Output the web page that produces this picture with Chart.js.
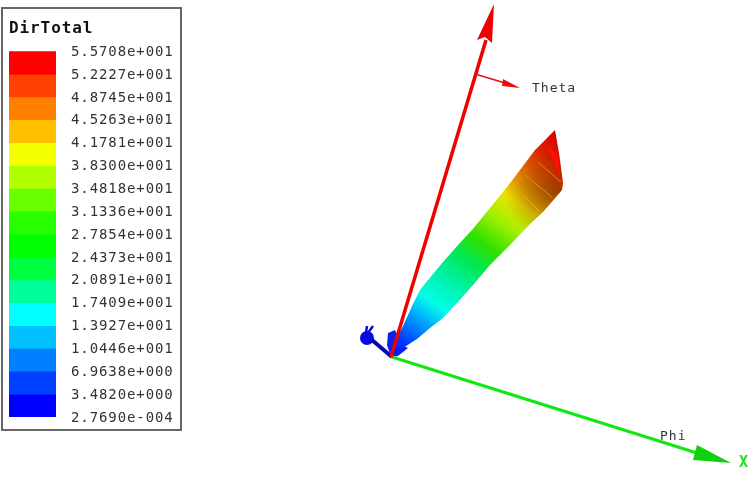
<!DOCTYPE html>
<html>
<head>
<meta charset="utf-8">
<script src="https://cdn.jsdelivr.net/npm/chart.js@4"></script>
<style>
html,body{margin:0;background:#fff}
#scene{position:absolute;left:0;top:0;filter:blur(.6px)}
#legendBox{position:absolute;left:1px;top:7px;width:177px;height:420px;border:2px solid #666;background:#fff}
#legend{filter:blur(.35px)}
</style>
</head>
<body>
<canvas id="scene" width="756" height="504"></canvas>
<div id="legendBox"><canvas id="legend" width="177" height="420"></canvas></div>
<script>
/* ===== LEGEND DATA ===== */
const legendTitle="DirTotal";
const tickLabels=["5.5708e+001","5.2227e+001","4.8745e+001","4.5263e+001","4.1781e+001","3.8300e+001","3.4818e+001","3.1336e+001","2.7854e+001","2.4373e+001","2.0891e+001","1.7409e+001","1.3927e+001","1.0446e+001","6.9638e+000","3.4820e+000","2.7690e-004"];
const bandColors=["#ff0000","#ff4000","#ff8000","#ffc000","#f4ff00","#b0ff00","#68ff00","#28ff00","#00ff00","#00ff40","#00ff99","#00ffff","#00c0ff","#0080ff","#0040ff","#0000ff"];

/* ===== SCENE DATA (in picture units) ===== */
const redAxis=[[391,357],[486,40]];
const redHead=[[494,4],[477,40],[485,37],[492,43]];
const thetaLine=[[475,74],[505,83]];
const thetaHead=[[520,88],[503,79],[502,86]];
const greenAxis=[[392,357],[697,453]];
const greenHead=[[731,463],[697,445],[695,452],[693,460]];
const beamOutline=[[391,356],[397,338],[403,326],[413,304],[420,290],[428,280],[443,262],[458,245],[472,230],[490,208],[507,187],[520,170],[535,150],[547,138],[555,130],[559,153],[563,183],[562,190],[543,212],[530,224],[510,245],[490,265],[473,285],[457,303],[443,318],[430,328],[417,339],[403,348],[392,356]];
const beamStops=[[0,"#0000ff"],[.08,"#0040ff"],[.17,"#00a0ff"],[.25,"#00ffe8"],[.36,"#00f0a0"],[.45,"#00e850"],[.53,"#30e000"],[.63,"#a0f000"],[.72,"#f0e000"],[.82,"#f08000"],[.92,"#e82000"],[1,"#d80000"]];
const beamAxis=[[394,360],[557,135]];
const shadeStops=[[0,"rgba(90,20,0,.55)"],[.5,"rgba(90,20,0,.3)"],[1,"rgba(90,20,0,0)"]];
const shadeCentre=[555,192];
const shadeRadius=[50];
const tipGlow=[[547,145],[558,155],[561,182]];
const seamA=[[538,162],[561,182]];
const seamB=[[525,175],[553,198]];
const seamC=[[523,195],[540,212]];
const backLobe=[[388,333],[395,330],[402,345],[408,348],[398,356],[391,357],[387,345]];
const neck=[[372,340],[392,357]];
const bulb=[[367,338]];
const earA=[[366,333],[367,326]];
const earB=[[368,333],[373,326]];
const sceneTexts=["Theta","Phi","X"];
const sceneTextX=[532,660,739];
const sceneTextY=[89,437,463];
const sceneTextColors=["#333","#333","#20e020"];
const sceneTextFonts=["13px 'DejaVu Sans Mono'","13px 'DejaVu Sans Mono'","bold 15px 'DejaVu Sans Mono'"];

/* ===== HELPERS ===== */
const pts=a=>a.map(p=>({x:p[0],y:p[1]}));

function shape(data,color){
  return {data:pts(data),showLine:true,fill:false,polyFill:color,borderColor:"transparent",borderWidth:0,pointRadius:0,tension:0};
}
function line(data,color,w){
  return {data:pts(data),showLine:true,fill:false,borderColor:color,borderWidth:w,pointRadius:0,tension:0};
}
function dot(data,color,r){
  return {data:pts(data),showLine:false,backgroundColor:color,borderColor:color,pointRadius:r,borderWidth:0};
}
function along(chart,a,stops){
  const s=chart.scales;
  const g=chart.ctx.createLinearGradient(s.x.getPixelForValue(a[0][0]),s.y.getPixelForValue(a[0][1]),s.x.getPixelForValue(a[1][0]),s.y.getPixelForValue(a[1][1]));
  stops.forEach(t=>g.addColorStop(t[0],t[1]));
  return g;
}
function around(chart,o,r,stops){
  const s=chart.scales;
  const x=s.x.getPixelForValue(o[0]),y=s.y.getPixelForValue(o[1]);
  const g=chart.ctx.createRadialGradient(x,y,0,x,y,r);
  stops.forEach(t=>g.addColorStop(t[0],t[1]));
  return g;
}

/* ===== SCENE ===== */
const layers=[
  dot(bulb,"#0a0ae0",7),
  line(earA,"#0a0ae0",2.5),
  line(earB,"#0a0ae0",2.5),
  line(neck,"#0808b0",4),
  shape(backLobe,"#0a20f0"),
  shape(beamOutline,c=>along(c,beamAxis,beamStops)),
  shape(beamOutline,c=>around(c,shadeCentre,shadeRadius[0],shadeStops)),
  shape(tipGlow,"#ff1000"),
  line(seamA,"rgba(255,150,40,.7)",1),
  line(seamB,"rgba(255,150,40,.7)",1),
  line(seamC,"rgba(255,190,40,.6)",1),
  line(greenAxis,"#10e810",3),
  shape(greenHead,"#10d010"),
  line(redAxis,"#f00000",3.5),
  shape(redHead,"#f00000"),
  line(thetaLine,"#e81010",1.5),
  shape(thetaHead,"#e81010")
];
layers.forEach((d,i)=>{d.order=layers.length-i});

/* closed shapes: fill the path of the library's own line element */
const polygons={
  id:"polygons",
  beforeDatasetDraw(chart,args){
    const c=chart.data.datasets[args.index].polyFill;
    if(!c)return;
    const ctx=chart.ctx;
    ctx.save();
    ctx.beginPath();
    args.meta.dataset.path(ctx);
    ctx.closePath();
    ctx.fillStyle=typeof c==="function"?c(chart):c;
    ctx.fill();
    ctx.restore();
  }
};

const sceneLabels={
  id:"sceneLabels",
  afterDatasetsDraw(chart){
    const {ctx,scales}=chart;
    ctx.save();
    ctx.letterSpacing="1px";
    ctx.textBaseline="middle";
    sceneTexts.forEach((t,i)=>{
      ctx.font=sceneTextFonts[i];
      ctx.fillStyle=sceneTextColors[i];
      ctx.fillText(t,scales.x.getPixelForValue(sceneTextX[i]),scales.y.getPixelForValue(sceneTextY[i]));
    });
    ctx.restore();
  }
};

new Chart(document.getElementById("scene"),{
  type:"scatter",
  data:{datasets:layers},
  options:{
    responsive:false,
    animation:false,
    layout:{padding:0,autoPadding:false},
    plugins:{legend:{display:false},tooltip:{enabled:false}},
    scales:{
      x:{type:"linear",display:false,min:0,max:756},
      y:{type:"linear",display:false,min:0,max:504,reverse:true}
    }
  },
  plugins:[polygons,sceneLabels]
});

/* ===== COLOUR LEGEND ===== */
const tickValues=tickLabels.map(Number);
const bands=bandColors.map((c,i)=>({
  data:[[tickValues[i+1],tickValues[i]]],
  backgroundColor:c,
  borderWidth:0,
  barPercentage:1,
  categoryPercentage:1
}));

new Chart(document.getElementById("legend"),{
  type:"bar",
  data:{labels:[legendTitle],datasets:bands},
  options:{
    responsive:false,
    animation:false,
    layout:{padding:{left:6,right:0,top:0,bottom:12},autoPadding:false},
    plugins:{
      legend:{display:false},
      tooltip:{enabled:false},
      title:{display:true,text:legendTitle,align:"start",color:"#111",
        font:{family:"'DejaVu Sans Mono'",size:16,weight:"bold"},
        padding:{top:10,bottom:13}}
    },
    scales:{
      x:{display:false,stacked:true},
      y:{
        position:"right",
        min:tickValues[tickValues.length-1],
        max:tickValues[0],
        grid:{display:false,drawTicks:false},
        border:{display:false},
        afterBuildTicks:s=>{s.ticks=tickValues.map(v=>({value:v}))},
        afterFit:s=>{s.width=124;s.paddingTop=0;s.paddingBottom=0},
        ticks:{
          autoSkip:false,
          padding:15,
          labelOffset:1,
          color:"#333",
          font:{family:"'DejaVu Sans Mono'",size:14},
          callback:(v,i)=>tickLabels[i]
        }
      }
    }
  },
  plugins:[{id:"spacing",beforeDraw(c){c.ctx.letterSpacing="0.9px"}}]
});
</script>
</body>
</html>
